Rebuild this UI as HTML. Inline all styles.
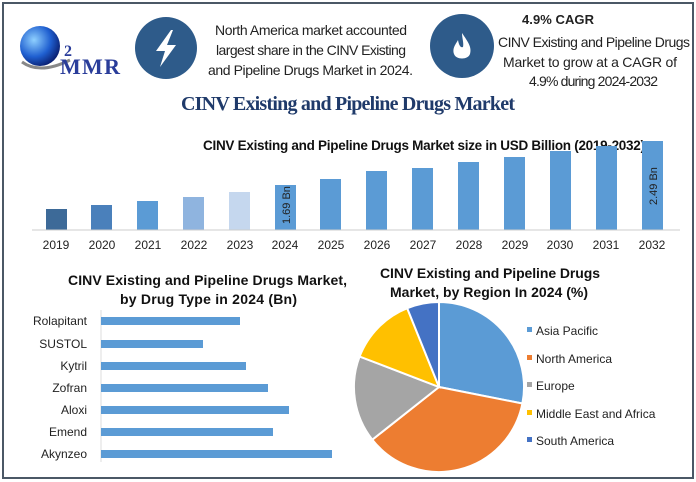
<!DOCTYPE html>
<html><head><meta charset="utf-8"><style>
body{margin:0;background:#fff;}
svg{display:block;font-family:"Liberation Sans",sans-serif;}
</style></head><body>
<svg width="696" height="482" viewBox="0 0 696 482" xmlns="http://www.w3.org/2000/svg">
<rect x="0" y="0" width="696" height="482" fill="#fff"/>
<rect x="3" y="3" width="690" height="475" fill="none" stroke="#4b5866" stroke-width="2"/>
<defs><radialGradient id="g" cx="0.35" cy="0.35" r="0.7"><stop offset="0" stop-color="#8fd0ff"/><stop offset="0.6" stop-color="#1f5fd0"/><stop offset="1" stop-color="#0a1f70"/></radialGradient></defs>
<circle cx="40" cy="46" r="20" fill="url(#g)"/>
<path d="M22 62 Q40 75 70 60" stroke="#888" stroke-width="3" fill="none"/>
<text x="60" y="74" font-family="Liberation Serif,serif" font-weight="bold" font-size="22" fill="#2a3d9a" textLength="60">MMR</text>
<text x="64" y="56" font-family="Liberation Serif,serif" font-weight="bold" font-size="16" fill="#2a3d9a">2</text>
<circle cx="166" cy="48" r="31" fill="#2e5b8a"/>
<path d="M171 30 L156 51 L165 51 L160 67 L176 45 L167 45 L173 30 Z" fill="#fff"/>
<g font-size="14" fill="#222">
<text x="215" y="35" textLength="192">North America market accounted</text>
<text x="216" y="55" textLength="190">largest share in the CINV Existing</text>
<text x="208" y="75" textLength="205">and Pipeline Drugs Market in 2024.</text>
</g>
<circle cx="462" cy="46" r="32" fill="#2e5b8a"/>
<path d="M462 33 C468 42 472 47 470 54 C468 60 456 60 454 54 C452 48 456 44 458 40 C459 46 461 48 463 47 C464 43 462 38 462 33 Z" fill="#fff"/>
<text x="522" y="24" font-size="13" font-weight="bold" fill="#222" textLength="72">4.9% CAGR</text>
<g font-size="14" fill="#222">
<text x="498" y="47" textLength="192">CINV Existing and Pipeline Drugs</text>
<text x="503" y="67" textLength="174">Market to grow at a CAGR of</text>
<text x="529" y="86" textLength="129">4.9% during 2024-2032</text>
</g>
<text x="181" y="110" font-family="Liberation Serif,serif" font-weight="bold" font-size="20" fill="#1f3a6a" textLength="334">CINV Existing and Pipeline Drugs Market</text>
<text x="203" y="150" font-size="13.5" font-weight="bold" fill="#111" textLength="442">CINV Existing and Pipeline Drugs Market size in USD Billion (2019-2032)</text>
<g>
<rect x="46" y="209" width="21" height="21" fill="#3d6a98"/>
<rect x="91" y="205" width="21" height="25" fill="#4a80bb"/>
<rect x="137" y="201" width="21" height="29" fill="#5b9bd5"/>
<rect x="183" y="197" width="21" height="33" fill="#8fb4df"/>
<rect x="229" y="192" width="21" height="38" fill="#c5d7ee"/>
<rect x="275" y="185" width="21" height="45" fill="#5b9bd5"/>
<rect x="320" y="179" width="21" height="51" fill="#5b9bd5"/>
<rect x="366" y="171" width="21" height="59" fill="#5b9bd5"/>
<rect x="412" y="168" width="21" height="62" fill="#5b9bd5"/>
<rect x="458" y="162" width="21" height="68" fill="#5b9bd5"/>
<rect x="504" y="157" width="21" height="73" fill="#5b9bd5"/>
<rect x="550" y="151" width="21" height="79" fill="#5b9bd5"/>
<rect x="596" y="146" width="21" height="84" fill="#5b9bd5"/>
<rect x="642" y="141" width="21" height="89" fill="#5b9bd5"/>
</g>
<line x1="32" y1="230" x2="680" y2="230" stroke="#ccc" stroke-width="1"/>
<text transform="translate(290,224) rotate(-90)" font-size="11" fill="#222">1.69 Bn</text>
<text transform="translate(657,205) rotate(-90)" font-size="11" fill="#222">2.49 Bn</text>
<g font-size="12" fill="#222" text-anchor="middle">
<text x="56" y="249">2019</text><text x="102" y="249">2020</text><text x="148" y="249">2021</text><text x="194" y="249">2022</text><text x="240" y="249">2023</text><text x="285" y="249">2024</text><text x="331" y="249">2025</text><text x="377" y="249">2026</text><text x="423" y="249">2027</text><text x="469" y="249">2028</text><text x="515" y="249">2029</text><text x="560" y="249">2030</text><text x="606" y="249">2031</text><text x="652" y="249">2032</text>
</g>
<g font-size="14" font-weight="bold" fill="#111">
<text x="68" y="285" textLength="279">CINV Existing and Pipeline Drugs Market,</text>
<text x="120" y="304" textLength="177">by Drug Type in 2024 (Bn)</text>
<text x="380" y="278" textLength="220">CINV Existing and Pipeline Drugs</text>
<text x="390" y="297" textLength="198">Market, by Region In 2024 (%)</text>
</g>
<line x1="101" y1="310" x2="101" y2="462" stroke="#ddd"/>
<g fill="#5b9bd5">
<rect x="101" y="317" width="139" height="8"/>
<rect x="101" y="340" width="102" height="8"/>
<rect x="101" y="362" width="145" height="8"/>
<rect x="101" y="384" width="167" height="8"/>
<rect x="101" y="406" width="188" height="8"/>
<rect x="101" y="428" width="172" height="8"/>
<rect x="101" y="450" width="231" height="8"/>
</g>
<g font-size="12" fill="#222" text-anchor="end">
<text x="87" y="325">Rolapitant</text>
<text x="87" y="348">SUSTOL</text>
<text x="87" y="370">Kytril</text>
<text x="87" y="392">Zofran</text>
<text x="87" y="414">Aloxi</text>
<text x="87" y="436">Emend</text>
<text x="87" y="458">Akynzeo</text>
</g>
<g stroke="#fff" stroke-width="2">
<path d="M439 387 L439 302 A85 85 0 0 1 522.4 403.5 Z" fill="#5b9bd5"/>
<path d="M439 387 L522.4 403.5 A85 85 0 0 1 372.3 439.7 Z" fill="#ed7d31"/>
<path d="M439 387 L372.3 439.7 A85 85 0 0 1 359.6 356.5 Z" fill="#a5a5a5"/>
<path d="M439 387 L359.6 356.5 A85 85 0 0 1 407.2 308.2 Z" fill="#ffc000"/>
<path d="M439 387 L407.2 308.2 A85 85 0 0 1 439 302 Z" fill="#4472c4"/>
</g>
<g font-size="12" fill="#222">
<rect x="527" y="327" width="5" height="5" fill="#5b9bd5"/><text x="536" y="335">Asia Pacific</text>
<rect x="527" y="355" width="5" height="5" fill="#ed7d31"/><text x="536" y="363">North America</text>
<rect x="527" y="382" width="5" height="5" fill="#a5a5a5"/><text x="536" y="390">Europe</text>
<rect x="527" y="410" width="5" height="5" fill="#ffc000"/><text x="536" y="418">Middle East and Africa</text>
<rect x="527" y="437" width="5" height="5" fill="#4472c4"/><text x="536" y="445">South America</text>
</g>
</svg>
</body></html>
